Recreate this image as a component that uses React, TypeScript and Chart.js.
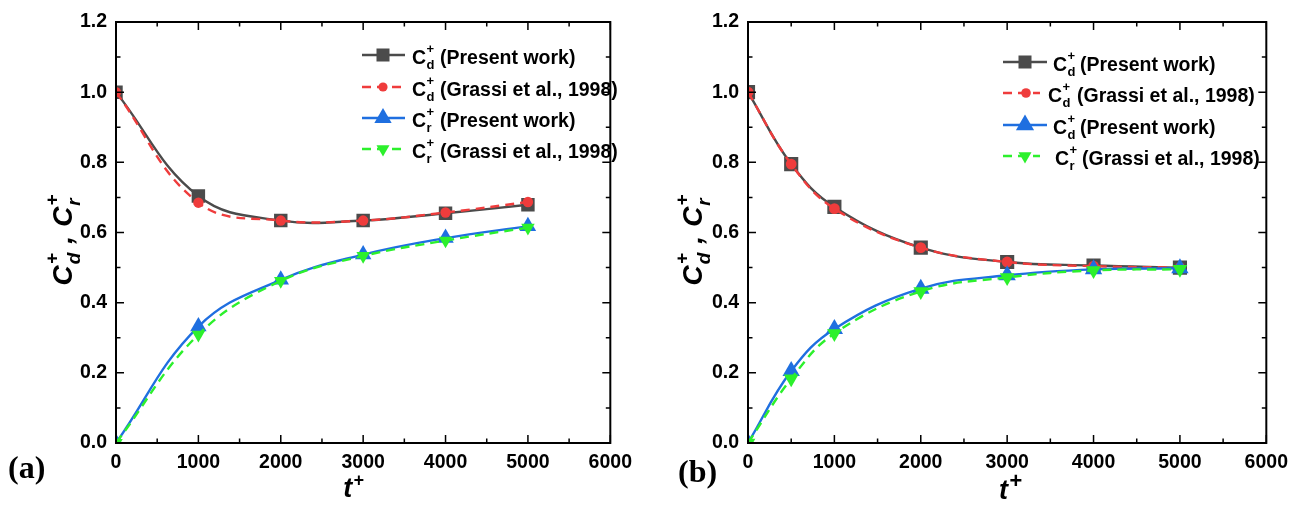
import React, { useEffect, useRef } from 'react';
import { Chart, registerables } from 'chart.js';

Chart.register(...registerables);

// ---------------- data ----------------
const tA = [0, 1000, 2000, 3000, 4000, 5000];
const cdPresentA = [1.0, 0.704, 0.634, 0.634, 0.655, 0.679];
const cdGrassiA = [1.0, 0.685, 0.634, 0.634, 0.657, 0.687];
const crPresentA = [0.0, 0.332, 0.465, 0.537, 0.584, 0.618];
const crGrassiA = [0.0, 0.309, 0.462, 0.533, 0.577, 0.614];

const tB = [0, 500, 1000, 2000, 3000, 4000, 5000];
const cdPresentB = [1.0, 0.795, 0.673, 0.557, 0.516, 0.506, 0.5];
const cdGrassiB = [1.0, 0.795, 0.668, 0.557, 0.516, 0.504, 0.5];
const crPresentB = [0.0, 0.205, 0.325, 0.44, 0.478, 0.495, 0.498];
const crGrassiB = [0.0, 0.183, 0.312, 0.432, 0.472, 0.492, 0.495];

const xTickLabels = ['0', '1000', '2000', '3000', '4000', '5000', '6000'];
const yTickLabels = ['0.0', '0.2', '0.4', '0.6', '0.8', '1.0', '1.2'];
const X_MIN = 0, X_MAX = 6000, X_MAJOR = 1000, X_MINOR = 500;
const Y_MIN = 0, Y_MAX = 1.2, Y_MAJOR = 0.2, Y_MINOR = 0.1;

const legendSubsA = ['d', 'd', 'r', 'r'];
const legendRestA = ['(Present work)', '(Grassi et al., 1998)', '(Present work)', '(Grassi et al., 1998)'];
const legendSubsB = ['d', 'd', 'd', 'r'];
const legendRestB = ['(Present work)', '(Grassi et al., 1998)', '(Present work)', '(Grassi et al., 1998)'];

// ---------------- styles ----------------
const GRAY = '#4b4b4b';
const RED = '#ef3c3c';
const BLUE = '#1f6fe0';
const GREEN = '#2cf02c';
const FONT = '"Liberation Sans", Arial, sans-serif';
const SERIF = '"Liberation Serif", "Times New Roman", serif';
const H = 509;
const TICK_SIZE = 19.5;
const LEG_SIZE = 19.5;

type Marker = { style: string; rotation: number; radius: number };

function drawMarker(ctx: CanvasRenderingContext2D, x: number, y: number, m: Marker, color: string) {
  ctx.save();
  ctx.fillStyle = color;
  ctx.beginPath();
  if (m.style === 'rect') {
    const s = m.radius * Math.SQRT1_2;
    ctx.rect(x - s, y - s, 2 * s, 2 * s);
  } else if (m.style === 'circle') {
    ctx.arc(x, y, m.radius, 0, Math.PI * 2);
  } else {
    let rad = (m.rotation * Math.PI) / 180;
    const r = m.radius;
    ctx.moveTo(x + Math.sin(rad) * r, y - Math.cos(rad) * r);
    rad += (2 * Math.PI) / 3;
    ctx.lineTo(x + Math.sin(rad) * r, y - Math.cos(rad) * r);
    rad += (2 * Math.PI) / 3;
    ctx.lineTo(x + Math.sin(rad) * r, y - Math.cos(rad) * r);
    ctx.closePath();
  }
  ctx.fill();
  ctx.restore();
}

// draws C with stacked superscript "+" and subscript; returns end x
function drawCSymbol(ctx: CanvasRenderingContext2D, x: number, base: number, sub: string, size: number, italic: boolean) {
  const st = italic ? 'italic bold ' : 'bold ';
  ctx.font = `${st}${size}px ${FONT}`;
  ctx.fillText('C', x, base);
  const cw = ctx.measureText('C').width;
  const small = Math.round(size * 0.68);
  ctx.font = `${st}${small}px ${FONT}`;
  const sx = x + cw + (italic ? 1 : 0.5);
  ctx.fillText('+', sx, base - size * 0.52);
  ctx.fillText(sub, sx, base + size * 0.3);
  const w = Math.max(ctx.measureText('+').width, ctx.measureText(sub).width);
  return sx + w;
}

function measureCSymbol(ctx: CanvasRenderingContext2D, sub: string, size: number, italic: boolean) {
  const st = italic ? 'italic bold ' : 'bold ';
  ctx.font = `${st}${size}px ${FONT}`;
  const cw = ctx.measureText('C').width;
  const small = Math.round(size * 0.68);
  ctx.font = `${st}${small}px ${FONT}`;
  return cw + 1 + Math.max(ctx.measureText('+').width, ctx.measureText(sub).width);
}

type LegendRow = { x1: number; x2: number; mx: number; cx: number; rx: number; y: number };

type PanelCfg = {
  left: number; // canvas left in page coords
  width: number;
  area: { left: number; right: number; top: number; bottom: number };
  t: number[];
  series: number[][];
  markers: Marker[];
  legendMarkers: Marker[];
  legendRows: LegendRow[];
  legendSubs: string[];
  legendRest: string[];
  xTitle: { cx: number; base: number; plusScale: number };
  yTitle: { cx: number; cy: number };
  label: { text: string; x: number; base: number };
};

const colors = [GRAY, RED, BLUE, GREEN];
const dashes = [[], [9, 6], [], [9, 6]];
const orders = [4, 3, 2, 1];

const panelA: PanelCfg = {
  left: 0,
  width: 640,
  area: { left: 116, right: 621, top: 22, bottom: 443 },
  t: tA,
  series: [cdPresentA, cdGrassiA, crPresentA, crGrassiA],
  markers: [
    { style: 'rect', rotation: 0, radius: 9.5 },
    { style: 'circle', rotation: 0, radius: 5.2 },
    { style: 'triangle', rotation: 0, radius: 9.5 },
    { style: 'triangle', rotation: 180, radius: 7.8 },
  ],
  legendMarkers: [
    { style: 'rect', rotation: 0, radius: 9.2 },
    { style: 'circle', rotation: 0, radius: 4.6 },
    { style: 'triangle', rotation: 0, radius: 10 },
    { style: 'triangle', rotation: 180, radius: 7.5 },
  ],
  legendRows: [
    { x1: 362, x2: 405, mx: 383, cx: 412, rx: 440, y: 55 },
    { x1: 362, x2: 405, mx: 383, cx: 412, rx: 440, y: 87 },
    { x1: 362, x2: 405, mx: 383, cx: 412, rx: 440, y: 118 },
    { x1: 362, x2: 405, mx: 383, cx: 412, rx: 440, y: 149 },
  ],
  legendSubs: legendSubsA,
  legendRest: legendRestA,
  xTitle: { cx: 353, base: 497, plusScale: 0.68 },
  yTitle: { cx: 62, cy: 240 },
  label: { text: '(a)', x: 8, base: 478 },
};

const panelB: PanelCfg = {
  left: 640,
  width: 656,
  area: { left: 748, right: 1277, top: 22, bottom: 443 },
  t: tB,
  series: [cdPresentB, cdGrassiB, crPresentB, crGrassiB],
  markers: [
    { style: 'rect', rotation: 0, radius: 10 },
    { style: 'circle', rotation: 0, radius: 5.4 },
    { style: 'triangle', rotation: 0, radius: 10 },
    { style: 'triangle', rotation: 180, radius: 8.5 },
  ],
  legendMarkers: [
    { style: 'rect', rotation: 0, radius: 9.2 },
    { style: 'circle', rotation: 0, radius: 4.8 },
    { style: 'triangle', rotation: 0, radius: 10.5 },
    { style: 'triangle', rotation: 180, radius: 7.5 },
  ],
  legendRows: [
    { x1: 1003, x2: 1047, mx: 1025, cx: 1053, rx: 1080, y: 62 },
    { x1: 1003, x2: 1040, mx: 1026, cx: 1048, rx: 1077, y: 93 },
    { x1: 1003, x2: 1047, mx: 1025, cx: 1053, rx: 1080, y: 125 },
    { x1: 1003, x2: 1040, mx: 1025, cx: 1055, rx: 1082, y: 156 },
  ],
  legendSubs: legendSubsB,
  legendRest: legendRestB,
  xTitle: { cx: 1010, base: 499, plusScale: 0.8 },
  yTitle: { cx: 692, cy: 240 },
  label: { text: '(b)', x: 678, base: 482 },
};

function makePlugin(p: PanelCfg) {
  const ox = p.left;
  return {
    id: 'decor',
    afterDatasetsDraw(chart: any) {
      const { ctx, chartArea: a, scales } = chart;
      const xs = scales.x, ys = scales.y;
      ctx.save();
      ctx.strokeStyle = '#000';
      ctx.lineWidth = 1.5;
      ctx.beginPath();
      for (let i = 0; X_MIN + i * X_MINOR <= X_MAX + 1e-9; i++) {
        const v = X_MIN + i * X_MINOR;
        const px = xs.getPixelForValue(v);
        const major = Math.abs(v / X_MAJOR - Math.round(v / X_MAJOR)) < 1e-6;
        const len = major ? 8 : 4.5;
        ctx.moveTo(px, a.bottom); ctx.lineTo(px, a.bottom - len);
        ctx.moveTo(px, a.top); ctx.lineTo(px, a.top + len);
      }
      for (let i = 0; Y_MIN + i * Y_MINOR <= Y_MAX + 1e-9; i++) {
        const v = Y_MIN + i * Y_MINOR;
        const py = ys.getPixelForValue(v);
        const major = i % 2 === 0;
        const len = major ? 8 : 4.5;
        ctx.moveTo(a.left, py); ctx.lineTo(a.left + len, py);
        ctx.moveTo(a.right, py); ctx.lineTo(a.right - len, py);
      }
      ctx.stroke();
      ctx.lineWidth = 2;
      ctx.strokeRect(a.left, a.top, a.right - a.left, a.bottom - a.top);
      ctx.restore();
    },
    afterDraw(chart: any) {
      const { ctx } = chart;
      ctx.save();
      ctx.fillStyle = '#000';
      ctx.textBaseline = 'alphabetic';
      ctx.textAlign = 'left';
      // legend
      chart.data.datasets.forEach((ds: any, i: number) => {
        const r = p.legendRows[i];
        ctx.save();
        ctx.strokeStyle = ds.borderColor;
        ctx.lineWidth = ds.borderWidth;
        ctx.setLineDash(ds.borderDash || []);
        ctx.beginPath();
        ctx.moveTo(r.x1 - ox, r.y);
        ctx.lineTo(r.x2 - ox, r.y);
        ctx.stroke();
        ctx.restore();
        drawMarker(ctx, r.mx - ox, r.y, p.legendMarkers[i], ds.pointBackgroundColor);
        ctx.fillStyle = '#000';
        const base = r.y + 8.5;
        drawCSymbol(ctx, r.cx - ox, base, p.legendSubs[i], LEG_SIZE, false);
        ctx.font = `bold ${LEG_SIZE}px ${FONT}`;
        ctx.fillText(p.legendRest[i], r.rx - ox, base);
      });
      // x title
      ctx.font = `italic bold 27px ${FONT}`;
      const tw = ctx.measureText('t').width;
      const ps = Math.round(27 * p.xTitle.plusScale);
      ctx.font = `italic bold ${ps}px ${FONT}`;
      const pw = ctx.measureText('+').width;
      const sx = p.xTitle.cx - ox - (tw + pw) / 2;
      ctx.font = `italic bold 27px ${FONT}`;
      ctx.fillText('t', sx, p.xTitle.base);
      ctx.font = `italic bold ${ps}px ${FONT}`;
      ctx.fillText('+', sx + tw + 1, p.xTitle.base - 11);
      // y title (rotated)
      ctx.save();
      ctx.translate(p.yTitle.cx - ox, p.yTitle.cy);
      ctx.rotate(-Math.PI / 2);
      const size = 28;
      const w1 = measureCSymbol(ctx, 'd', size, true);
      ctx.font = `italic bold ${size}px ${FONT}`;
      const comma = ',';
      const gap = 9;
      const wc = ctx.measureText(comma).width + 2 * gap;
      const w2 = measureCSymbol(ctx, 'r', size, true);
      const total = w1 + wc + w2;
      const b = size * 0.36;
      let x = -total / 2;
      x = drawCSymbol(ctx, x, b, 'd', size, true);
      ctx.font = `italic bold ${size}px ${FONT}`;
      ctx.fillText(comma, x + gap, b);
      x += wc;
      drawCSymbol(ctx, x, b, 'r', size, true);
      ctx.restore();
      // panel label
      ctx.font = `bold 32px ${SERIF}`;
      ctx.fillText(p.label.text, p.label.x - ox, p.label.base);
      ctx.restore();
    },
  };
}

function ChartPanel({ p }: { p: PanelCfg }) {
  const ref = useRef<HTMLCanvasElement | null>(null);
  useEffect(() => {
    if (!ref.current) return;
    const labels = ['C_d+ (Present work)', 'C_d+ (Grassi et al., 1998)', 'C_r+ (Present work)', 'C_r+ (Grassi et al., 1998)'];
    const datasets = p.series.map((vals, i) => ({
      label: labels[i],
      data: p.t.map((t, j) => ({ x: t, y: vals[j] })),
      borderColor: colors[i],
      backgroundColor: colors[i],
      pointBackgroundColor: colors[i],
      pointBorderColor: colors[i],
      pointBorderWidth: 0,
      borderWidth: 2.4,
      borderDash: dashes[i],
      pointStyle: p.markers[i].style,
      pointRotation: p.markers[i].rotation,
      pointRadius: p.markers[i].radius,
      tension: 0.4,
      fill: false,
      order: orders[i],
    }));
    const areaLeft = p.area.left - p.left;
    const areaRight = p.area.right - p.left;
    const chart = new Chart(ref.current, {
      type: 'line',
      data: { datasets },
      options: {
        responsive: false,
        maintainAspectRatio: false,
        animation: false,
        devicePixelRatio: 1,
        layout: { padding: { left: 0, top: p.area.top, right: p.width - areaRight, bottom: 0 } },
        plugins: { legend: { display: false }, tooltip: { enabled: false } },
        scales: {
          x: {
            type: 'linear',
            min: X_MIN,
            max: X_MAX,
            grid: { display: false, drawTicks: false },
            border: { display: false },
            afterFit: (s: any) => { s.height = H - p.area.bottom; },
            afterBuildTicks: (s: any) => {
              s.ticks = xTickLabels.map((_, k) => ({ value: X_MIN + k * X_MAJOR }));
            },
            ticks: {
              autoSkip: false,
              maxRotation: 0,
              padding: 8,
              color: '#000',
              font: { family: FONT, size: TICK_SIZE, weight: 'bold' },
              callback: (_v: any, k: number) => xTickLabels[k],
            },
          },
          y: {
            type: 'linear',
            min: Y_MIN,
            max: Y_MAX,
            grid: { display: false, drawTicks: false },
            border: { display: false },
            afterFit: (s: any) => { s.width = areaLeft; },
            afterBuildTicks: (s: any) => {
              s.ticks = yTickLabels.map((_, k) => ({ value: Y_MIN + k * Y_MAJOR }));
            },
            ticks: {
              autoSkip: false,
              padding: 9,
              color: '#000',
              font: { family: FONT, size: TICK_SIZE, weight: 'bold' },
              callback: (_v: any, k: number) => yTickLabels[k],
            },
          },
        },
      } as any,
      plugins: [makePlugin(p) as any],
    });
    return () => chart.destroy();
  }, [p]);
  return (
    <canvas
      ref={ref}
      width={p.width}
      height={H}
      style={{ position: 'absolute', left: p.left, top: 0, width: p.width, height: H, display: 'block' }}
    />
  );
}

export default function App() {
  return (
    <div style={{ position: 'absolute', left: 0, top: 0, width: 1296, height: H, background: '#fff', overflow: 'hidden' }}>
      <ChartPanel p={panelA} />
      <ChartPanel p={panelB} />
    </div>
  );
}
